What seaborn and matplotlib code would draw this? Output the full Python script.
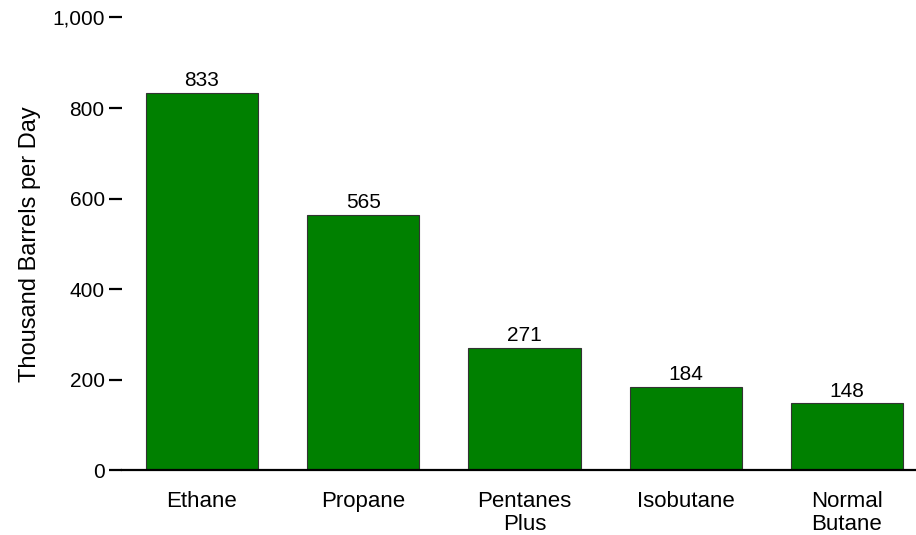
import matplotlib
matplotlib.use("Agg")
import matplotlib.pyplot as plt
import pandas as pd
import seaborn as sns
from matplotlib.ticker import FuncFormatter

# --- data ---
categories = ["Ethane", "Propane", "Pentanes\nPlus", "Isobutane", "Normal\nButane"]
values = [833, 565, 271, 184, 148]
y_ticks = [0, 200, 400, 600, 800, 1000]

df = pd.DataFrame({"product": categories, "kbd": values})

sns.set_theme(style="white", rc={"text.color": "black", "axes.labelcolor": "black",
                                 "xtick.color": "black", "ytick.color": "black"})
plt.rcParams["font.family"] = ["Liberation Sans", "DejaVu Sans"]

fig = plt.figure(figsize=(9.16, 5.35), dpi=100)
ax = fig.add_axes([0.1332, 0.1206, 0.8668, 0.8467])

sns.barplot(data=df, x="product", y="kbd", color="#008000", saturation=1,
            width=0.695, edgecolor="#333333", linewidth=0.8, ax=ax)

# value labels above bars
for c in ax.containers:
    ax.bar_label(c, fmt="%d", padding=2, fontsize=15, color="black")

ax.set_ylim(0, 1000)
ax.set_xlim(-0.496, 4.428)
ax.set_yticks(y_ticks)
ax.yaxis.set_major_formatter(FuncFormatter(lambda v, p: f"{int(v):,}"))

for s in ["top", "right", "left"]:
    ax.spines[s].set_visible(False)
ax.spines["bottom"].set_linewidth(1.6)
ax.spines["bottom"].set_color("black")

ax.tick_params(axis="y", length=9.5, width=1.6, labelsize=15, pad=3, left=True)
ax.tick_params(axis="x", length=0, labelsize=16, pad=15)
for lab in ax.get_xticklabels():
    lab.set_linespacing(1.08)
ax.set_xlabel("")
ax.set_ylabel("Thousand Barrels per Day", fontsize=17, labelpad=8)

fig.savefig("out.png", dpi=100)
